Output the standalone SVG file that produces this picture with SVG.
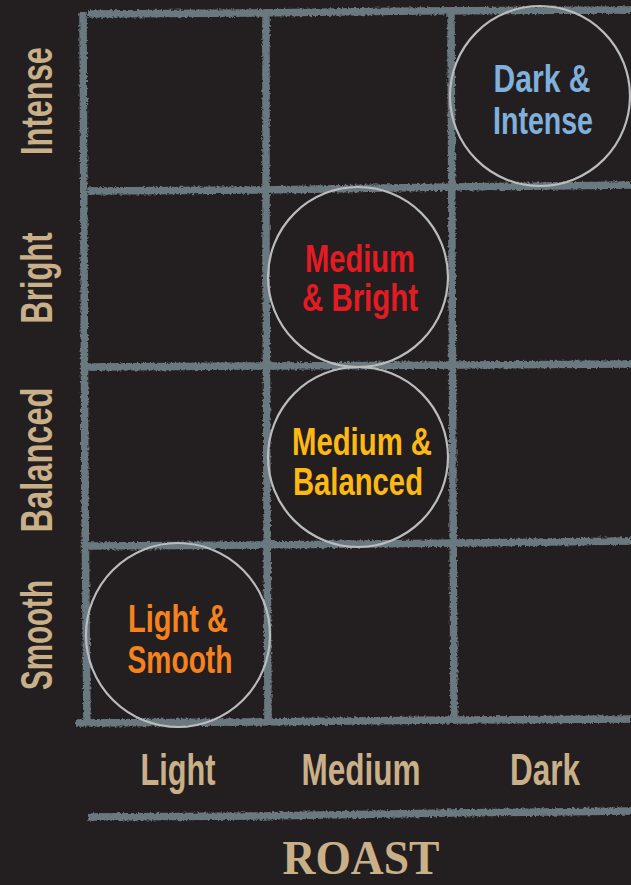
<svg xmlns="http://www.w3.org/2000/svg" width="631" height="885" viewBox="0 0 631 885">
  <defs>
    <filter id="rough" x="-5%" y="-5%" width="110%" height="110%">
      <feTurbulence type="fractalNoise" baseFrequency="0.4" numOctaves="2" seed="4" result="n"/>
      <feDisplacementMap in="SourceGraphic" in2="n" scale="4" xChannelSelector="R" yChannelSelector="G"/>
    </filter>
    <style>
      .bg { fill: #231f20; }
      .grid path { fill: none; stroke: #6b7880; stroke-width: 7.5; stroke-linecap: butt; }
      .ring { fill: none; stroke: #b9bbbd; stroke-width: 2.2; }
      .lbl { font-family: "Liberation Sans Narrow", "Liberation Sans", Arial, sans-serif; font-weight: bold; font-size: 38px; text-anchor: middle; }
      .axis { font-family: "Liberation Sans Narrow", "Liberation Sans", Arial, sans-serif; font-weight: bold; font-size: 45px; fill: #c9b088; text-anchor: middle; }
      .title { font-family: "Liberation Serif", "Times New Roman", serif; font-weight: bold; font-size: 48px; fill: #c9b088; text-anchor: middle; }
    </style>
  </defs>
  <rect class="bg" x="0" y="0" width="631" height="885"/>

  <g id="grid" class="grid" filter="url(#rough)">
    <path d="M88 14 L250 13 L420 11 L631 10"/>
    <path d="M88 191 L260 190 L450 187 L631 185"/>
    <path d="M88 367 L270 366 L460 365 L631 364"/>
    <path d="M88 546 L260 545 L460 543 L631 541"/>
    <path d="M76 723 L250 722 L450 720 L631 719"/>
    <path d="M88 817 L260 816 L450 813 L631 811"/>
    <path d="M83 12 L84 250 L85 500 L87 726"/>
    <path d="M266 12 L266 250 L267 500 L268 722"/>
    <path d="M451 10 L452 250 L453 500 L454 716"/>
  </g>

  <g id="node-dark-intense">
    <circle class="ring" cx="540" cy="96" r="90"/>
    <text class="lbl" fill="#7fb1dc" x="542" y="92" textLength="97" lengthAdjust="spacingAndGlyphs">Dark &amp;</text>
    <text class="lbl" fill="#7fb1dc" x="543" y="134" textLength="100" lengthAdjust="spacingAndGlyphs">Intense</text>
  </g>
  <g id="node-medium-bright">
    <circle class="ring" cx="358" cy="277" r="90"/>
    <text class="lbl" fill="#e31b23" x="360" y="272" textLength="110" lengthAdjust="spacingAndGlyphs">Medium</text>
    <text class="lbl" fill="#e31b23" x="360" y="311" textLength="116" lengthAdjust="spacingAndGlyphs">&amp; Bright</text>
  </g>
  <g id="node-medium-balanced">
    <circle class="ring" cx="358" cy="457" r="90"/>
    <text class="lbl" fill="#fdb813" x="362" y="455" textLength="140" lengthAdjust="spacingAndGlyphs">Medium &amp;</text>
    <text class="lbl" fill="#fdb813" x="358" y="495" textLength="130" lengthAdjust="spacingAndGlyphs">Balanced</text>
  </g>
  <g id="node-light-smooth">
    <circle class="ring" cx="178" cy="635" r="92"/>
    <text class="lbl" fill="#f5821f" x="178" y="632" textLength="100" lengthAdjust="spacingAndGlyphs">Light &amp;</text>
    <text class="lbl" fill="#f5821f" x="180" y="673" textLength="105" lengthAdjust="spacingAndGlyphs">Smooth</text>
  </g>

  <g id="y-axis">
    <text class="axis" transform="translate(52,101) rotate(-90)" textLength="108" lengthAdjust="spacingAndGlyphs">Intense</text>
    <text class="axis" transform="translate(52,278) rotate(-90)" textLength="91" lengthAdjust="spacingAndGlyphs">Bright</text>
    <text class="axis" transform="translate(52,460) rotate(-90)" textLength="145" lengthAdjust="spacingAndGlyphs">Balanced</text>
    <text class="axis" transform="translate(52,635) rotate(-90)" textLength="110" lengthAdjust="spacingAndGlyphs">Smooth</text>
  </g>

  <g id="x-axis">
    <text class="axis" x="178" y="785" textLength="75" lengthAdjust="spacingAndGlyphs">Light</text>
    <text class="axis" x="361" y="785" textLength="119" lengthAdjust="spacingAndGlyphs">Medium</text>
    <text class="axis" x="545" y="785" textLength="70" lengthAdjust="spacingAndGlyphs">Dark</text>
    <text class="title" x="361" y="874" textLength="157" lengthAdjust="spacingAndGlyphs">ROAST</text>
  </g>
</svg>
